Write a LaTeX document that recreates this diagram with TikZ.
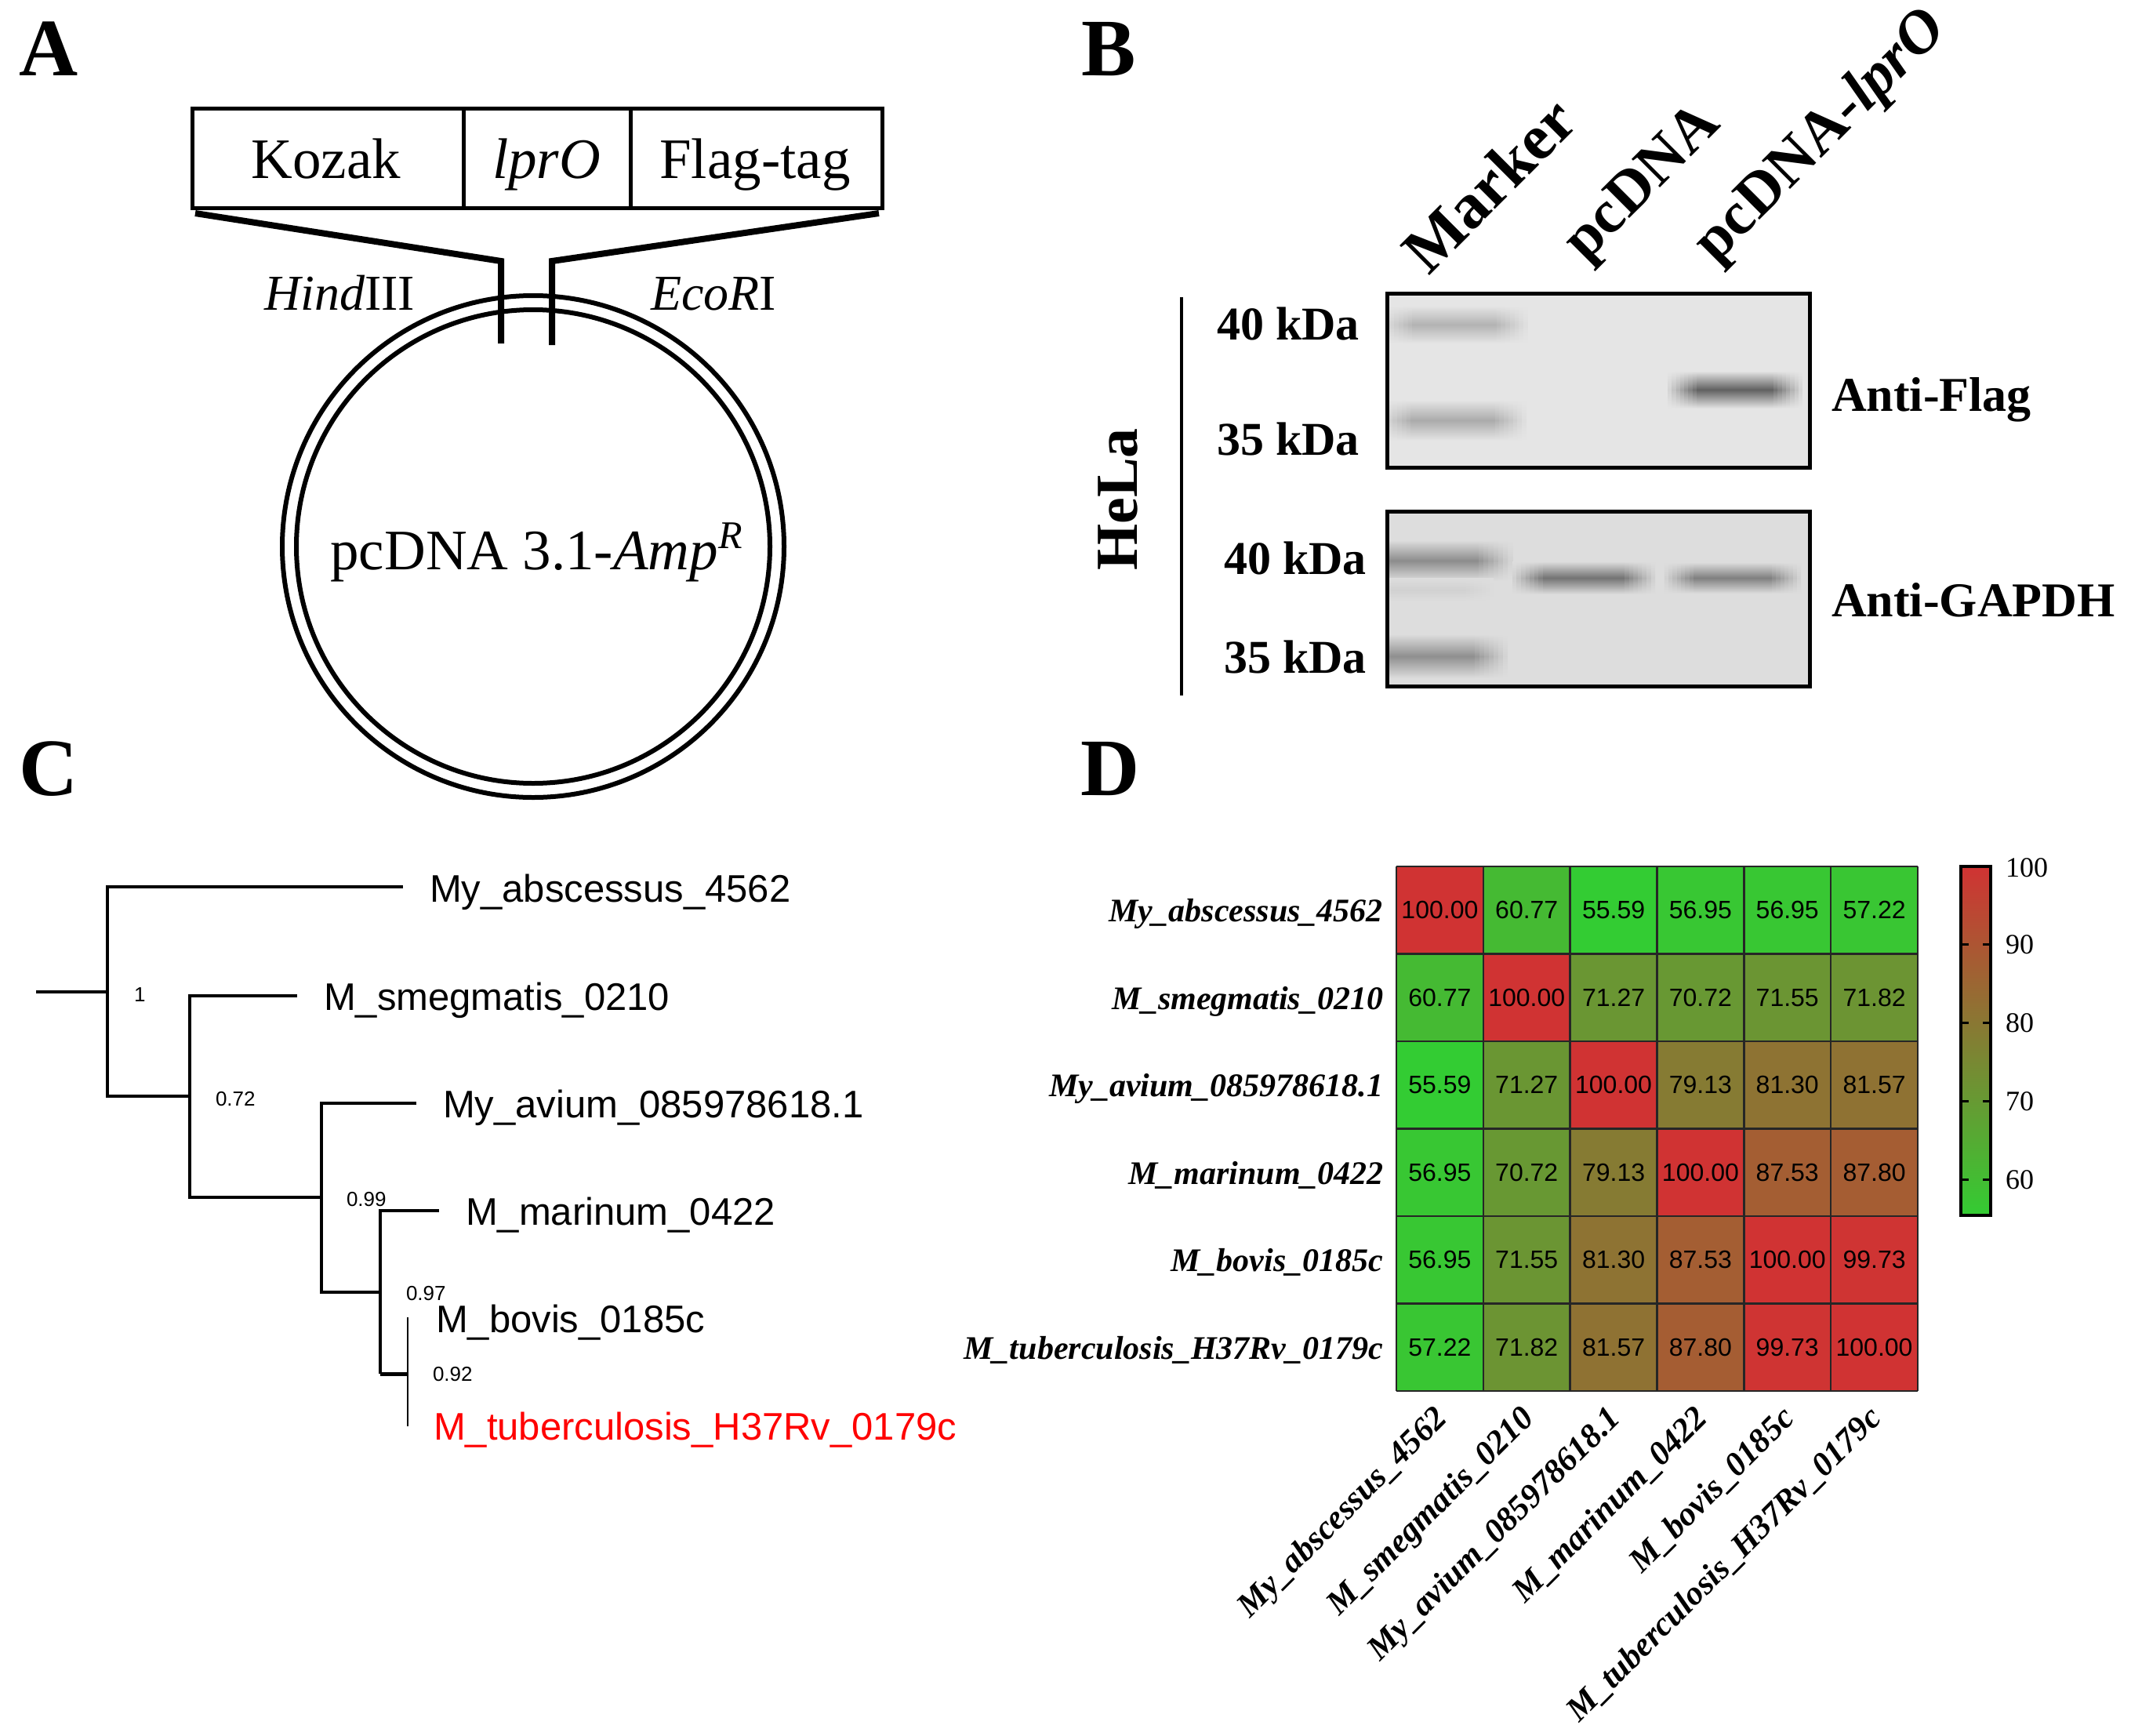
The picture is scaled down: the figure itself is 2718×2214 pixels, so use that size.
\documentclass[tikz,border=0pt]{standalone}
\usepackage{fontspec}
\setmainfont{Liberation Serif}
\setsansfont{Liberation Sans}
\newcommand\fsz[1]{\fontsize{#1}{#1}\selectfont}
\definecolor{hmlow}{RGB}{51,204,51}
\definecolor{hmhigh}{RGB}{208,51,51}
\definecolor{blotU}{RGB}{229,229,229}
\definecolor{blotL}{RGB}{221,221,221}
\tikzset{
  every node/.style={inner sep=0pt, outer sep=0pt},
  panlab/.style={font=\fsz{104}\bfseries, anchor=base},
  partA/.style={font=\fsz{73}, anchor=base},
  siteA/.style={font=\fsz{64}, anchor=base},
  thickbox/.style={line width=5pt},
  funnel/.style={line width=8pt, line join=miter},
  ring/.style={line width=6pt},
  lanelab/.style={font=\fsz{78}\bfseries, rotate=45, anchor=base west},
  kda/.style={font=\fsz{60}\bfseries, anchor=base east},
  ablab/.style={font=\fsz{62}\bfseries, anchor=base west},
  blotbox/.style={line width=5pt},
  treeline/.style={line width=3.2pt},
  taxon/.style={font=\sffamily\fsz{49}, anchor=base west},
  boot/.style={font=\sffamily\fsz{26}, anchor=base west},
  numtxt/.style={font=\sffamily\fsz{32}},
  rowlab/.style={font=\fsz{42}\bfseries\itshape, anchor=base east},
  collab/.style={font=\fsz{43}\bfseries\itshape, rotate=45, anchor=north east},
  gridline/.style={line width=2.5pt, black!85},
  cbtick/.style={line width=3pt},
  cblab/.style={font=\fsz{36}, anchor=west},
}
% blurred band: bg, x, y, half width, half height, colour
\newcommand\band[6]{%
  \colorlet{bandcol}{#6}%
  \foreach \k [count=\j] in {1.30,1.22,1.14,1.06,0.98,0.90,0.82,0.74}{
    \pgfmathsetmacro\pk{12.5*\j}
    \shade[top color=#1, bottom color=#1, middle color={bandcol!\pk!#1}]
      (#2-#4*\k,#3-#5) rectangle (#2+#4*\k,#3+#5);
  }}
\begin{document}
\begin{tikzpicture}[x=1pt,y=-1pt]
\useasboundingbox (0,0) rectangle (2718,2214);
\fill[white] (0,0) rectangle (2718,2214);

% ---------------- panel labels
\node[panlab] (labA) at (62,96) {A};
\node[panlab] (labB) at (1414,96) {B};
\node[panlab] (labC) at (62,1014) {C};
\node[panlab] (labD) at (1416,1014) {D};

% ---------------- panel A
\draw[thickbox] (245,138) rectangle (1125,265);
\draw[thickbox] (591,138) -- (591,265);
\draw[thickbox] (804,138) -- (804,265);
\node[partA] (kozak) at (416,227) {Kozak};
\node[partA] (lpro) at (697,227) {\itshape lprO};
\node[partA] (flag) at (963,227) {Flag-tag};
\coordinate (fl1) at (249,272);
\coordinate (fl2) at (639,333);
\coordinate (fl3) at (639,438);
\coordinate (fr1) at (1121,272);
\coordinate (fr2) at (704,333);
\coordinate (fr3) at (704,440);
\draw[funnel] (fl1) -- (fl2) -- (fl3);
\draw[funnel] (fr1) -- (fr2) -- (fr3);
\coordinate (pc) at (680,697);
\draw[ring] (pc) circle [radius=320pt];
\draw[ring] (pc) circle [radius=302pt];
\node[siteA] (hind) at (433,395) {\itshape Hind\upshape III};
\node[siteA] (eco) at (910,395) {\itshape EcoR\upshape I};
\node[partA] (vec) at (684,726) {pcDNA 3.1-\textit{Amp}\raisebox{0.36em}{\fsz{50}\itshape R}};

% ---------------- panel B
\node[lanelab, font=\fsz{82}\bfseries] (lmark) at (1822,352) {Marker};
\node[lanelab] (lpc) at (2022,335) {pcDNA};
\node[lanelab] (lpcl) at (2188,337) {pcDNA-\textit{lprO}};

\fill[blotU] (1769,374) rectangle (2308,596);
\fill[blotL] (1769,652) rectangle (2308,875);
\begin{scope}
\clip (1769,374) rectangle (2308,596);
\band{blotU}{1855}{414}{72}{24}{black!30}
\band{blotU}{1853}{536}{72}{26}{black!33}
\band{blotU}{2213}{497}{66}{24}{black!62}
\end{scope}
\begin{scope}
\clip (1769,652) rectangle (2308,875);
\band{blotL}{1828}{715}{78}{26}{black!45}
\band{blotL}{1822}{752}{64}{15}{black!18}
\band{blotL}{1825}{837}{75}{28}{black!44}
\band{blotL}{2020}{737}{70}{21}{black!55}
\band{blotL}{2210}{737}{67}{20}{black!50}
\end{scope}
\draw[blotbox] (1769,374) rectangle (2308,596);
\draw[blotbox] (1769,652) rectangle (2308,875);

\node[kda] (u40) at (1734,433) {40 kDa};
\node[kda] (u35) at (1734,580) {35 kDa};
\node[kda] (l40) at (1743,732) {40 kDa};
\node[kda] (l35) at (1743,858) {35 kDa};
\node[ablab] (aflag) at (2336,524) {Anti-Flag};
\node[ablab] (agapdh) at (2336,786) {Anti-GAPDH};
\coordinate (hl1) at (1507,379);
\coordinate (hl2) at (1507,887);
\draw[line width=4pt] (hl1) -- (hl2);
\node[font=\fsz{76}\bfseries, rotate=90] (hela) at (1426,637) {HeLa};

% ---------------- panel C (tree)
\coordinate (root) at (46,1265);
\coordinate (n1) at (137,1265);
\coordinate (n1t) at (137,1131);
\coordinate (t1) at (514,1131);
\coordinate (n1b) at (137,1398);
\coordinate (n2) at (242,1398);
\coordinate (n2t) at (242,1270);
\coordinate (t2) at (379,1270);
\coordinate (n2b) at (242,1527);
\coordinate (n3) at (410,1527);
\coordinate (n3t) at (410,1407);
\coordinate (t3) at (531,1407);
\coordinate (n3b) at (410,1648);
\coordinate (n4) at (485,1648);
\coordinate (n4t) at (485,1544);
\coordinate (t4) at (560,1544);
\coordinate (n4b) at (485,1752);
\coordinate (n5) at (520,1752);
\coordinate (n5t) at (520,1680);
\coordinate (n5b) at (520,1819);
\draw[treeline] (root) -- (n1);
\draw[treeline] (t1) -- (n1t) -- (n1b) -- (n2);
\draw[treeline] (t2) -- (n2t) -- (n2b) -- (n3);
\draw[treeline] (t3) -- (n3t) -- (n3b) -- (n4);
\draw[treeline] (t4) -- (n4t) -- (n4b);
\draw[line width=5pt] (n4b) -- (n5);
\draw[line width=2.6pt] (n5t) -- (n5b);
\node[taxon] (ta1) at (548,1150) {My\_abscessus\_4562};
\node[taxon] (ta2) at (413,1288) {M\_smegmatis\_0210};
\node[taxon] (ta3) at (565,1425) {My\_avium\_085978618.1};
\node[taxon] (ta4) at (594,1562) {M\_marinum\_0422};
\node[taxon] (ta5) at (556,1699) {M\_bovis\_0185c};
\node[taxon, text=red] (ta6) at (553,1836) {M\_tuberculosis\_H37Rv\_0179c};
\node[boot] (b1) at (171,1277) {1};
\node[boot] (b2) at (275,1410) {0.72};
\node[boot] (b3) at (442,1538) {0.99};
\node[boot] (b4) at (518,1658) {0.97};
\node[boot] (b5) at (552,1761) {0.92};

% ---------------- panel D (heatmap)
\foreach \rowvals [count=\r] in {
  {100.00,60.77,55.59,56.95,56.95,57.22},
  {60.77,100.00,71.27,70.72,71.55,71.82},
  {55.59,71.27,100.00,79.13,81.30,81.57},
  {56.95,70.72,79.13,100.00,87.53,87.80},
  {56.95,71.55,81.30,87.53,100.00,99.73},
  {57.22,71.82,81.57,87.80,99.73,100.00}}{
  \foreach \v [count=\c] in \rowvals {
    \pgfmathsetmacro\pp{max(0,min(100,(\v-55.59)/44.41*100))}
    \pgfmathsetmacro\xa{1781+(\c-1)*110.83}
    \pgfmathsetmacro\ya{1105+(\r-1)*111.5}
    \pgfmathsetmacro\xc{\xa+55.415}
    \pgfmathsetmacro\yc{\ya+55.75}
    \fill[fill={hmhigh!\pp!hmlow}] (\xa,\ya) rectangle ++(110.83,111.5);
    \node[numtxt] (cell-\r-\c) at (\xc,\yc) {\v};
  }
}
\foreach \i in {0,...,6}{
  \pgfmathsetmacro\gx{1781+\i*110.83}
  \pgfmathsetmacro\gy{1105+\i*111.5}
  \draw[gridline] (\gx,1105) -- (\gx,1774);
  \draw[gridline] (1781,\gy) -- (2446,\gy);
}
\foreach \nm [count=\r] in {My\_abscessus\_4562, M\_smegmatis\_0210, My\_avium\_085978618.1, M\_marinum\_0422, M\_bovis\_0185c, M\_tuberculosis\_H37Rv\_0179c}{
  \pgfmathsetmacro\yb{1105+(\r-0.5)*111.5+15}
  \pgfmathsetmacro\xe{1781+(\r-0.5)*110.83-10}
  \node[rowlab] (rl-\r) at (1764,\yb) {\nm};
  \node[collab] (cl-\r) at (\xe,1790) {\nm};
}
% colour bar
\shade[bottom color=hmlow, top color=hmhigh] (2501,1105) rectangle (2539,1550);
\draw[line width=4pt] (2501,1105) rectangle (2539,1550);
\foreach \t in {60,70,80,90}{
  \pgfmathsetmacro\ty{1105+(100-\t)*9.99}
  \draw[cbtick] (2501,\ty) -- (2511,\ty);
  \draw[cbtick] (2529,\ty) -- (2539,\ty);
  \node[cblab] (cb\t) at (2558,\ty) {\t};
}
\node[cblab] (cb100) at (2558,1107) {100};
\end{tikzpicture}
\end{document}
